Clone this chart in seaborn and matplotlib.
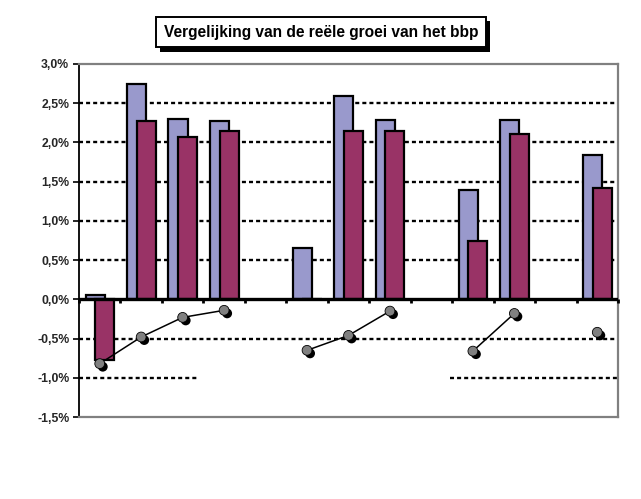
import numpy as np
import pandas as pd
import matplotlib
matplotlib.use("Agg")
import matplotlib.pyplot as plt
import matplotlib.patheffects as pe
import seaborn as sns

# ---- data ----
categories = list(range(13))
blue_vals = [0.05, 2.75, 2.30, 2.27, np.nan, 0.66, 2.59, 2.29, np.nan, 1.39, 2.29, np.nan, 1.84]
red_vals = [-0.77, 2.27, 2.07, 2.15, np.nan, 0.01, 2.14, 2.15, np.nan, 0.74, 2.11, np.nan, 1.42]
line_vals = [-0.82, -0.48, -0.23, -0.14, np.nan, -0.65, -0.46, -0.15, np.nan, -0.66, -0.18, np.nan, -0.42]
line_groups = [0, 0, 0, 0, -1, 1, 1, 1, -1, 2, 2, -1, 3]
yticks = [-1.5, -1.0, -0.5, 0.0, 0.5, 1.0, 1.5, 2.0, 2.5, 3.0]
ytick_labels = ["-1,5%", "-1,0%", "-0,5%", "0,0%", "0,5%", "1,0%", "1,5%", "2,0%", "2,5%", "3,0%"]
title = "Vergelijking van de reële groei van het bbp"

BLUE = "#9999CC"
RED = "#993366"

sns.set_theme(style="white")
plt.rcParams["font.family"] = ["Liberation Sans", "DejaVu Sans"]

fig = plt.figure(figsize=(6.41, 4.99), dpi=100)
ax = fig.add_axes([79 / 641, 1 - 417 / 499, (618 - 79) / 641, (417 - 64) / 499])

cat = np.array(categories, dtype=float)
df_b = pd.DataFrame({"x": cat - 0.113, "v": blue_vals}).dropna()
df_r = pd.DataFrame({"x": cat + 0.12, "v": red_vals}).dropna()

# gridlines (behind bars)
dots = (0, (1.7, 1.3))
for yv in [-0.5, 0.5, 1.0, 1.5, 2.0, 2.5]:
    ax.axhline(yv, color="black", lw=1.7, ls=dots, zorder=0)
ax.plot([-0.5, 2.35], [-1.0, -1.0], color="black", lw=1.7, ls=dots, zorder=0)
ax.plot([8.45, 12.5], [-1.0, -1.0], color="black", lw=1.7, ls=dots, zorder=0)

sns.barplot(data=df_b, x="x", y="v", native_scale=True, width=0.46, color=BLUE,
            saturation=1, edgecolor="black", linewidth=1.6, ax=ax, zorder=2, errorbar=None)
sns.barplot(data=df_r, x="x", y="v", native_scale=True, width=0.46, color=RED,
            saturation=1, edgecolor="black", linewidth=1.6, ax=ax, zorder=3, errorbar=None)

df_l = pd.DataFrame({"x": cat, "v": line_vals, "g": line_groups}).dropna()
sns.lineplot(data=df_l, x="x", y="v", units="g", estimator=None, color="black",
             lw=1.1, ax=ax, zorder=4, legend=False)
sns.scatterplot(data=df_l, x="x", y="v", color="#808080", edgecolor="black",
                linewidth=0.6, s=50, ax=ax, zorder=5, legend=False)
ax.collections[-1].set_path_effects([
    pe.SimplePatchShadow(offset=(2.2, -2.2), shadow_rgbFace="black", alpha=1.0),
    pe.Normal()])

# zero line with ticks
ax.axhline(0, color="black", lw=2.4, zorder=6)
for b in np.arange(-0.5, 13.0, 1.0):
    ax.plot([b, b], [0, -0.045], color="black", lw=2.0, zorder=6, clip_on=False,
            solid_capstyle="butt")

ax.set_xlim(-0.5, 12.5)
ax.set_ylim(-1.5, 3.0)
ax.set_yticks(yticks)
ax.set_yticklabels(ytick_labels, fontsize=8.8, fontweight="bold")
ax.set_xticks([])
ax.set_xlabel("")
ax.set_ylabel("")
ax.tick_params(axis="y", direction="out", length=4, width=1.2, color="black",
               left=True, pad=3)

for s in ["top", "right", "bottom"]:
    ax.spines[s].set_color("#808080")
    ax.spines[s].set_linewidth(1.6)
ax.spines["left"].set_color("black")
ax.spines["left"].set_linewidth(1.3)
ax.set_facecolor("white")

# title box with shadow
fig.text(321 / 641, 1 - 32 / 499, title, ha="center", va="center",
         fontsize=11.2, fontweight="bold", color="black",
         bbox=dict(boxstyle="square,pad=0.5", facecolor="white", edgecolor="black", linewidth=1.4))
t = fig.texts[-1]
t.get_bbox_patch().set_path_effects([
    pe.SimplePatchShadow(offset=(3.2, -3.2), shadow_rgbFace="black", alpha=1.0),
    pe.Normal()])

fig.savefig("out.png", dpi=100, facecolor="white")
